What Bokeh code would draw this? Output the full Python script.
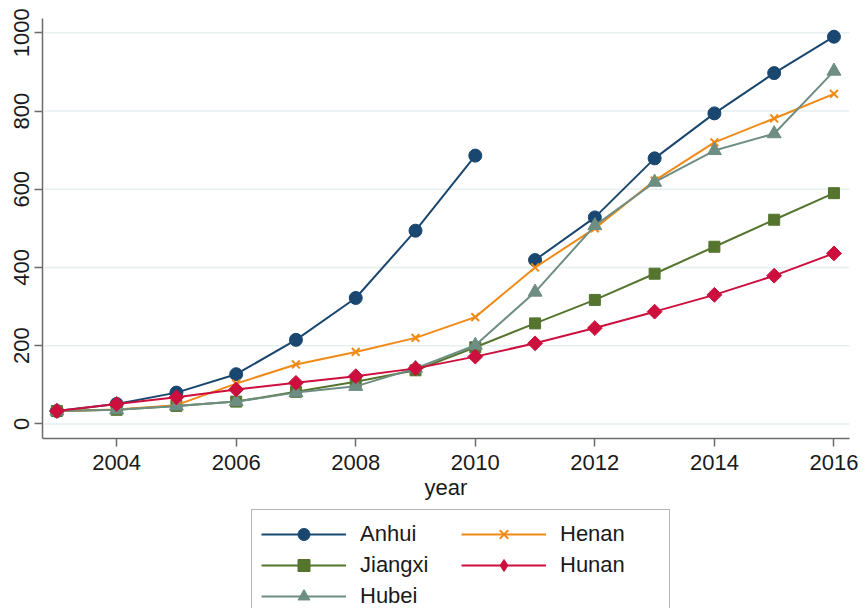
import math
from bokeh.plotting import figure
from bokeh.models import Legend, LegendItem, Range1d, FixedTicker
from bokeh.embed import file_html
from bokeh.resources import INLINE

years = [2003, 2004, 2005, 2006, 2007, 2008, 2009, 2010, 2011, 2012, 2013, 2014, 2015, 2016]

anhui_years = [2003, 2004, 2005, 2006, 2007, 2008, 2009, 2010]
anhui_a = [33, 51, 80, 127, 215, 322, 494, 686]
anhui_years_b = [2011, 2012, 2013, 2014, 2015, 2016]
anhui_b = [419, 528, 679, 794, 897, 990]

jiangxi = [33, 36, 46, 57, 82, 108, 137, 196, 257, 317, 384, 453, 522, 590]
henan = [33, 37, 48, 103, 152, 184, 220, 273, 400, 500, 622, 720, 781, 844]
hubei = [33, 36, 46, 57, 80, 96, 142, 201, 337, 507, 618, 699, 742, 902]
hunan = [33, 51, 68, 88, 105, 122, 142, 172, 206, 245, 287, 330, 379, 436]

y_ticks = [0, 200, 400, 600, 800, 1000]
x_ticks = [2004, 2006, 2008, 2010, 2012, 2014, 2016]

C_ANHUI = "#1a476f"
C_JIANGXI = "#55752f"
C_HUBEI = "#6e8e84"
C_HENAN = "#ef8a17"
C_HUNAN = "#cc0f3d"

FONT = "Liberation Sans"
FS = "22px"

# axis data extents (where the drawn axes sit)
X_LO, X_HI = 2002.76, 2016.26
Y_LO, Y_HI = -37.6, 1036.6
# frame extends to canvas bottom/right so that legend and last tick label fit inside it
Y_FRAME_LO = -472.0
X_FRAME_HI = X_HI + 9.0 / 59.75

p = figure(width=858, height=608, output_backend="svg", toolbar_location=None,
           x_range=Range1d(X_LO, X_FRAME_HI), y_range=Range1d(Y_FRAME_LO, Y_HI),
           min_border_left=42, min_border_right=0, min_border_top=18, min_border_bottom=0)
p.outline_line_color = None
p.background_fill_color = "white"
p.border_fill_color = "white"

# grid: horizontal lines at the y ticks, limited to the axis extent
p.xgrid.grid_line_color = None
p.ygrid.grid_line_color = None
p.segment(x0=X_LO + 0.03, x1=X_HI, y0=y_ticks, y1=y_ticks,
          line_color="#e6eff0", line_width=1.5, level="underlay")

# axes
p.xaxis.ticker = FixedTicker(ticks=x_ticks)
p.yaxis.ticker = FixedTicker(ticks=y_ticks)
p.xaxis.fixed_location = Y_LO
p.xaxis.bounds = (X_LO, X_HI)
p.yaxis.bounds = (Y_LO, Y_HI)
for ax in (p.xaxis[0], p.yaxis[0]):
    ax.axis_line_color = "#6b6b6b"
    ax.axis_line_width = 1.5
    ax.major_tick_line_color = "#6b6b6b"
    ax.major_tick_line_width = 1.5
    ax.major_tick_out = 8
    ax.major_tick_in = 0
    ax.minor_tick_line_color = None
    ax.major_label_text_font = FONT
    ax.major_label_text_font_size = FS
    ax.major_label_text_color = "#1a1a1a"
p.yaxis.major_label_orientation = "vertical"
p.yaxis.major_label_standoff = 5
p.xaxis.major_label_standoff = 8
p.xaxis.axis_label = "year"
p.xaxis.axis_label_text_font = FONT
p.xaxis.axis_label_text_font_size = FS
p.xaxis.axis_label_text_font_style = "normal"
p.xaxis.axis_label_text_color = "#1a1a1a"
p.xaxis.axis_label_standoff = 2

LW = 2

# Anhui
la1 = p.line(anhui_years, anhui_a, line_color=C_ANHUI, line_width=LW)
la2 = p.line(anhui_years_b, anhui_b, line_color=C_ANHUI, line_width=LW)
ma1 = p.scatter(anhui_years, anhui_a, marker="circle", size=13, fill_color=C_ANHUI, line_color=C_ANHUI)
ma2 = p.scatter(anhui_years_b, anhui_b, marker="circle", size=13, fill_color=C_ANHUI, line_color=C_ANHUI)

# Jiangxi
lj = p.line(years, jiangxi, line_color=C_JIANGXI, line_width=LW)
mj = p.scatter(years, jiangxi, marker="square", size=11, fill_color=C_JIANGXI, line_color=C_JIANGXI)

# Henan
lh = p.line(years, henan, line_color=C_HENAN, line_width=LW)
mh = p.scatter(years, henan, marker="x", size=11, line_color=C_HENAN, line_width=2)

# Hubei
lb = p.line(years, hubei, line_color=C_HUBEI, line_width=LW)
mb = p.scatter(years, hubei, marker="triangle", size=14, fill_color=C_HUBEI, line_color=C_HUBEI)

# Hunan
ln = p.line(years, hunan, line_color=C_HUNAN, line_width=LW)
mn = p.scatter(years, hunan, marker="square", angle=math.pi / 4, size=10.5,
               fill_color=C_HUNAN, line_color=C_HUNAN)
# legend swatch for Hunan (legend glyphs ignore angle, so use a diamond marker; not drawn in plot)
mn_key = p.scatter(x=[float("nan")], y=[float("nan")], marker="diamond", size=14,
                   fill_color=C_HUNAN, line_color=C_HUNAN)

items = [
    LegendItem(label="Anhui", renderers=[la1, ma1]),
    LegendItem(label="Jiangxi", renderers=[lj, mj]),
    LegendItem(label="Hubei", renderers=[lb, mb]),
    LegendItem(label="Henan", renderers=[lh, mh]),
    LegendItem(label="Hunan", renderers=[ln, mn_key]),
]
legend = Legend(items=items, orientation="vertical", nrows=3,
                location=(209, -13))
legend.label_text_font = FONT
legend.label_text_font_size = FS
legend.label_text_color = "#1a1a1a"
legend.glyph_width = 85
legend.glyph_height = 30
legend.label_height = 30
legend.label_width = 100
legend.label_standoff = 14
legend.spacing = 1
legend.padding = 9
legend.margin = 0
legend.border_line_color = "#6b6b6b"
legend.border_line_width = 1.5
legend.background_fill_color = "white"
legend.background_fill_alpha = 1
p.add_layout(legend, "center")

open("out.html", "w").write(file_html(p, INLINE))
